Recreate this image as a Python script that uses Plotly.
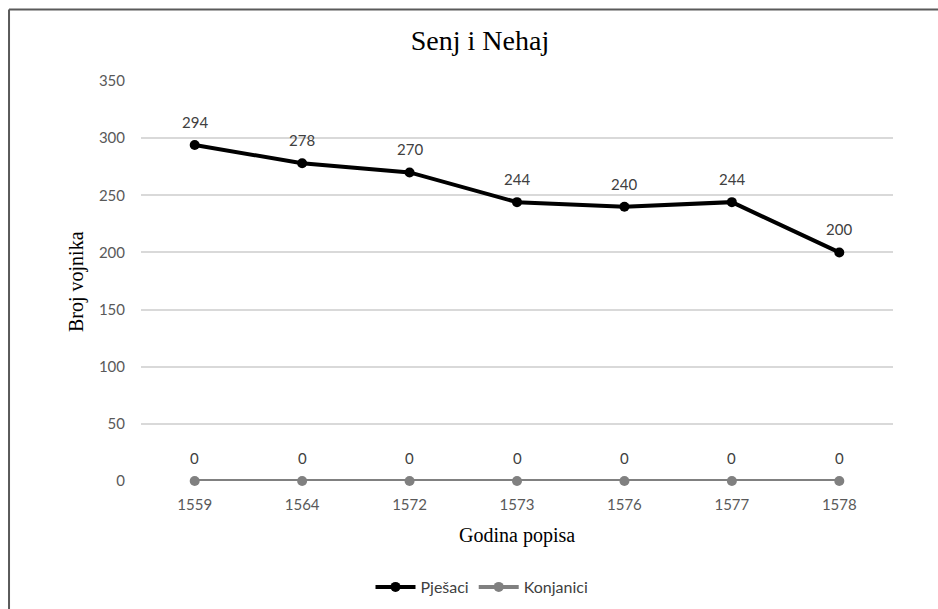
import plotly.graph_objects as go

years = ["1559", "1564", "1572", "1573", "1576", "1577", "1578"]
pjesaci = [294, 278, 270, 244, 240, 244, 200]
konjanici = [0, 0, 0, 0, 0, 0, 0]
y_ticks = [0, 50, 100, 150, 200, 250, 300, 350]

SANS = "Lato, 'Open Sans', sans-serif"
SERIF = "'Liberation Serif', 'Times New Roman', serif"

fig = go.Figure()
fig.add_trace(go.Scatter(
    x=years, y=pjesaci, name="Pješaci", mode="lines+markers",
    line=dict(color="#000000", width=4), marker=dict(size=10, color="#000000"),
    cliponaxis=False,
))
fig.add_trace(go.Scatter(
    x=years, y=konjanici, name="Konjanici", mode="lines+markers",
    line=dict(color="#808080", width=4), marker=dict(size=10, color="#808080"),
    cliponaxis=False,
))

annotations = []
for series in (pjesaci, konjanici):
    for i, yv in enumerate(series):
        annotations.append(dict(
            x=i, y=yv, xref="x", yref="y", text=str(yv), showarrow=False,
            xanchor="center", yanchor="middle",
            yshift=23, font=dict(family=SANS, size=15, color="#404040"),
        ))
annotations.append(dict(
    text="Broj vojnika", xref="paper", yref="paper", x=(76 - 141) / 752, y=0.4975,
    xanchor="center", yanchor="middle",
    textangle=-90, showarrow=False, font=dict(family=SERIF, size=20, color="#000000"),
))
annotations.append(dict(
    text="Godina popisa", xref="paper", yref="paper", x=0.5, y=-0.135,
    xanchor="center", yanchor="middle",
    showarrow=False, font=dict(family=SERIF, size=20, color="#000000"),
))

shapes = [
    dict(type="line", xref="paper", yref="paper", x0=-0.1755, x1=-0.1755, y0=-0.35, y1=1.17875,
         line=dict(color="#5a5a5a", width=2)),
    dict(type="line", xref="paper", yref="paper", x0=-0.1755, x1=1.07, y0=1.17875, y1=1.17875,
         line=dict(color="#5a5a5a", width=2)),
]

fig.update_layout(
    width=938, height=609,
    margin=dict(l=141, r=45, t=81, b=128, autoexpand=False),
    paper_bgcolor="white", plot_bgcolor="white",
    title=dict(text="Senj i Nehaj", x=480/938, xref="container", xanchor="center",
               y=1 - 40/609, yref="container", yanchor="middle",
               font=dict(family=SERIF, size=28, color="#000000")),
    xaxis=dict(type="category", range=[-0.5, 6.5], showgrid=False, showline=False,
               zeroline=False, ticks="outside", ticklen=10, tickcolor="rgba(0,0,0,0)",
               tickfont=dict(family=SANS, size=15, color="#595959")),
    yaxis=dict(range=[0, 350], tickvals=y_ticks, showgrid=True, gridcolor="#d9d9d9",
               gridwidth=1.5, zeroline=False, showline=False, ticks="outside", ticklen=12,
               tickcolor="rgba(0,0,0,0)", tickfont=dict(family=SANS, size=15, color="#595959")),
    legend=dict(orientation="h", x=482 / 938, xref="container", xanchor="center",
                y=1 - 587 / 609, yref="container", yanchor="middle",
                font=dict(family=SANS, size=16, color="#404040"), itemwidth=40),
    annotations=annotations,
    shapes=shapes,
)

fig.write_html("out.html", config={"displayModeBar": False},
               post_script="document.body.style.margin='0';")
